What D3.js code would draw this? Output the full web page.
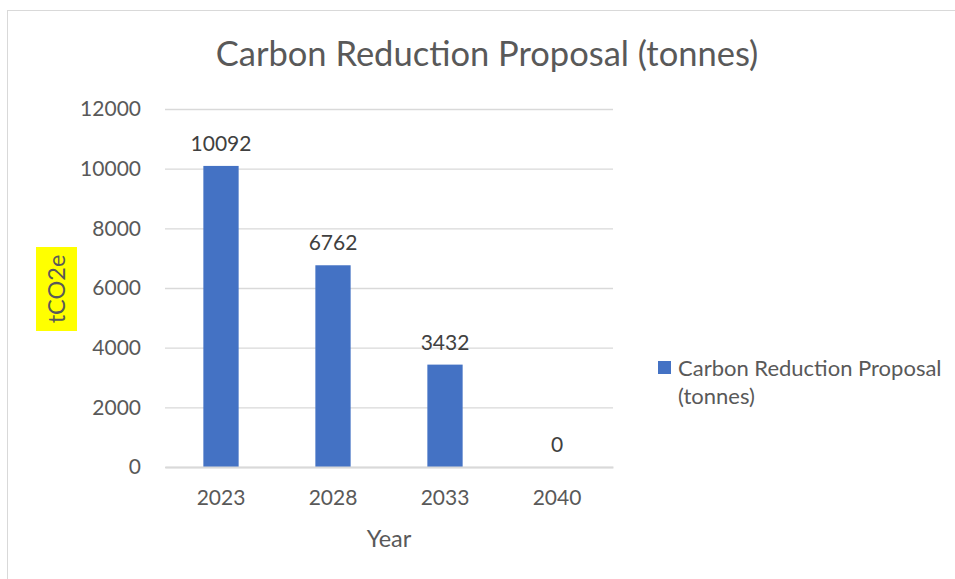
<!DOCTYPE html>
<html><head><meta charset="utf-8">
<script src="https://cdn.jsdelivr.net/npm/d3@7"></script>
<style>body{margin:0;background:#fff;} svg{display:block;} text{font-family:Lato, "Open Sans", sans-serif;}</style>
</head><body>
<svg id="c" width="955" height="579"></svg>
<script>
const categories = ["2023","2028","2033","2040"];
const values = [10092, 6762, 3432, 0];
const yTicks = [0,2000,4000,6000,8000,10000,12000];
const title = "Carbon Reduction Proposal (tonnes)";
const seriesName = ["Carbon Reduction Proposal", "(tonnes)"];
const xTitle = "Year", yTitle = "tCO2e";

const svg = d3.select("#c");
const txt = "#595959", grid = "#d9d9d9", barC = "#4472C4";
svg.append("rect").attr("x",7.5).attr("y",10.5).attr("width",960).attr("height",600)
  .attr("fill","#fff").attr("stroke",grid).attr("stroke-width",1);

const m = {l:165, r:613, t:109, b:467};
const x = d3.scaleBand().domain(categories).range([m.l,m.r]).paddingInner(0.685).paddingOuter(0.3425);
const y = d3.scaleLinear().domain([0,12000]).range([m.b,m.t]);
const fs = 21;

const ga = svg.append("g").attr("transform",`translate(${m.l},0)`)
  .call(d3.axisLeft(y).tickValues(yTicks).tickSize(-(m.r-m.l)).tickPadding(24).tickFormat(d3.format("d")));
ga.select(".domain").remove();
ga.selectAll(".tick line").attr("stroke",grid).attr("stroke-width",1.3);
ga.selectAll(".tick text").attr("fill",txt).attr("font-size",fs).attr("font-family","Lato, sans-serif");

svg.selectAll(".bar").data(values).join("rect")
  .attr("x",(d,i)=>x(categories[i])).attr("width",x.bandwidth())
  .attr("y",d=>y(d)).attr("height",d=>y(0)-y(d)).attr("fill",barC);

const gx = svg.append("g").attr("transform",`translate(0,${m.b})`)
  .call(d3.axisBottom(x).tickSize(0).tickPadding(23));
gx.select(".domain").attr("stroke",grid).attr("stroke-width",2);
gx.selectAll(".tick text").attr("fill",txt).attr("font-size",fs).attr("font-family","Lato, sans-serif");

svg.selectAll(".lbl").data(values).join("text")
  .attr("x",(d,i)=>x(categories[i])+x.bandwidth()/2).attr("y",d=>y(d)-15)
  .attr("text-anchor","middle").attr("fill","#404040").attr("font-size",fs).text(d=>d);

svg.append("text").attr("x",487).attr("y",66).attr("text-anchor","middle").attr("fill",txt)
  .attr("font-size",34.5).text(title);
svg.append("text").attr("x",389).attr("y",547).attr("text-anchor","middle").attr("fill",txt)
  .attr("font-size",23.5).text(xTitle);

svg.append("rect").attr("x",36).attr("y",247).attr("width",41).attr("height",84).attr("fill","#ffff00");
svg.append("text").attr("transform","translate(65,289) rotate(-90)").attr("text-anchor","middle")
  .attr("fill",txt).attr("font-size",23.5).text(yTitle);

svg.append("rect").attr("x",658).attr("y",361).attr("width",13).attr("height",13).attr("fill",barC);
svg.append("text").attr("x",678).attr("y",376).attr("fill",txt).attr("font-size",22).text(seriesName[0]);
svg.append("text").attr("x",678).attr("y",404).attr("fill",txt).attr("font-size",22).text(seriesName[1]);
</script>
</body></html>
